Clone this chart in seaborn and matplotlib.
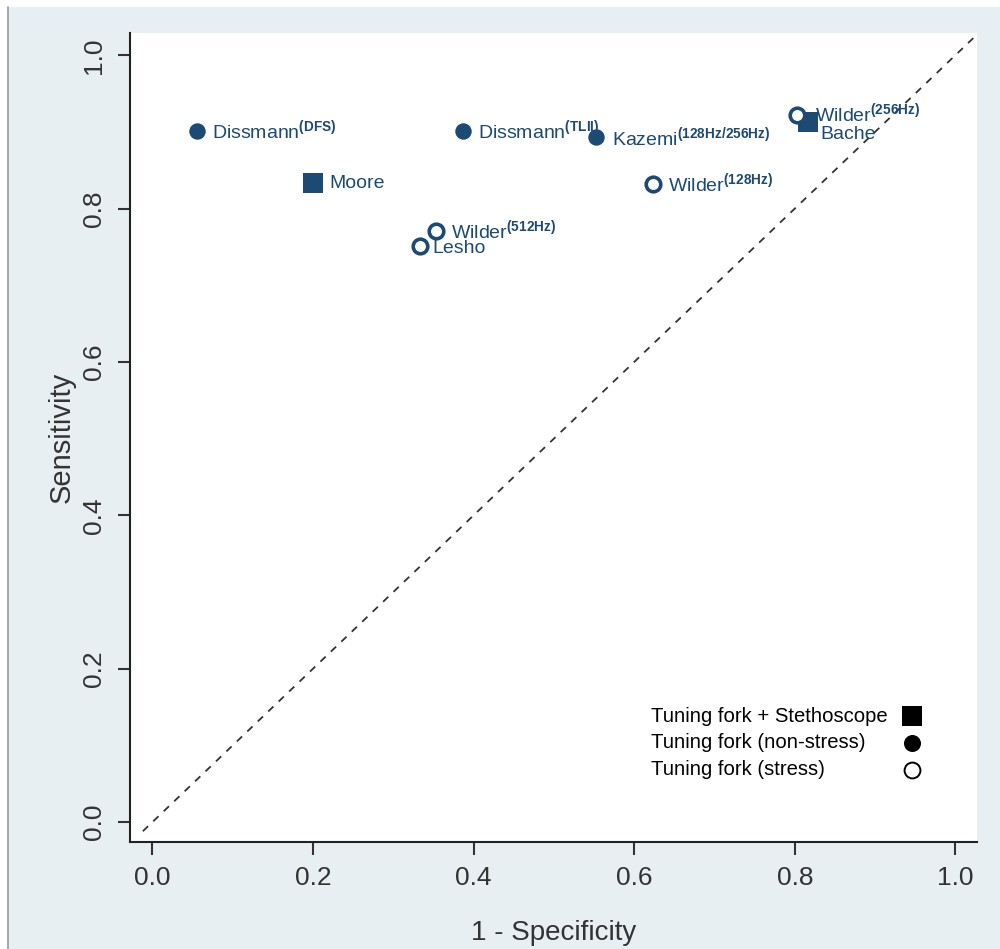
import numpy as np
import pandas as pd
import matplotlib
matplotlib.use("Agg")
import matplotlib.pyplot as plt
from matplotlib.lines import Line2D
from matplotlib.patches import Rectangle
import seaborn as sns

# study points
studies = ['Dissmann', 'Moore', 'Dissmann', 'Kazemi', 'Wilder', 'Wilder', 'Lesho', 'Wilder', 'Bache']
tags = ['(DFS)', '', '(TLII)', '(128Hz/256Hz)', '(128Hz)', '(512Hz)', '', '(256Hz)', '']
fpr = [0.055, 0.200, 0.387, 0.553, 0.623, 0.353, 0.333, 0.803, 0.816]
sens = [0.901, 0.833, 0.901, 0.893, 0.832, 0.771, 0.751, 0.922, 0.913]
group = ['nonstress', 'steth', 'nonstress', 'nonstress', 'stress', 'stress', 'stress', 'stress', 'steth']
# label offsets in points (dx, dy)
off_x = [11, 12, 11, 11, 11, 11, 9, 13, 9]
off_y = [0, 0, 0, 0, 0, 0, -2, 1, -9]

legend_groups = ['steth', 'nonstress', 'stress']
legend_labels = ['Tuning fork + Stethoscope', 'Tuning fork (non-stress)', 'Tuning fork (stress)']
diag = np.array([-0.012, 1.03])

navy = '#1c4a72'
bg = '#e8eff2'

df = pd.DataFrame({'fpr': fpr, 'sens': sens, 'group': group})

sns.set_style('ticks')
plt.rcParams['font.family'] = ['Liberation Sans', 'DejaVu Sans']
plt.rcParams['mathtext.fontset'] = 'custom'
plt.rcParams['mathtext.rm'] = 'Liberation Sans'
plt.rcParams['mathtext.bf'] = 'Liberation Sans:bold'

fig = plt.figure(figsize=(10, 9.49), dpi=100)
fig.patch.set_facecolor('white')
fig.patches.append(Rectangle((0.008, -0.1), 1.1, 1.1 - 0.0074, transform=fig.transFigure,
                             facecolor=bg, edgecolor='none', zorder=-10))
fig.lines.append(Line2D([0.008, 0.008], [0, 1 - 0.0074], transform=fig.transFigure,
                        color='#9a9a9a', lw=1.2))

ax = fig.add_axes([0.13, 0.1128, 0.847, 0.8524])
ax.set_facecolor('white')

ax.plot(diag, diag, ls=(0, (4, 4)), color='#333333', lw=1.3, zorder=1)

styles = {
    'steth': dict(marker='s', s=210, color=navy, edgecolor=navy, linewidth=0),
    'nonstress': dict(marker='o', s=140, color=navy, edgecolor=navy, linewidth=0),
    'stress': dict(marker='o', s=110, color='white', edgecolor=navy, linewidth=2.6),
}
for g, st in styles.items():
    sub = df[df['group'] == g]
    sns.scatterplot(data=sub, x='fpr', y='sens', ax=ax, legend=False, zorder=3, **st)

for i in range(len(studies)):
    if tags[i]:
        lab = r'$\mathrm{%s}^{\mathbf{%s}}$' % (studies[i], tags[i])
    else:
        lab = studies[i]
    ax.annotate(lab, (fpr[i], sens[i]), xytext=(off_x[i], off_y[i]), textcoords='offset points',
                ha='left', va='center', fontsize=14, color=navy, zorder=4)

# legend: text left-aligned, key to the right (drawn by hand)
leg_style = {
    'steth': dict(marker='s', s=190, color='black', edgecolor='black', linewidth=0),
    'nonstress': dict(marker='o', s=150, color='black', edgecolor='black', linewidth=0),
    'stress': dict(marker='o', s=130, color='white', edgecolor='black', linewidth=1.4),
}
for k, (g, lab) in enumerate(zip(legend_groups, legend_labels)):
    yk = 0.1557 - k * 0.0333
    ax.text(0.615, yk, lab, transform=ax.transAxes, ha='left', va='center',
            fontsize=14.6, color='black')
    ax.scatter([0.923], [yk], transform=ax.transAxes, zorder=5, **leg_style[g])

ax.set_xlim(-0.028, 1.027)
ax.set_ylim(-0.026, 1.029)
ticks = [0.0, 0.2, 0.4, 0.6, 0.8, 1.0]
ax.set_xticks(ticks)
ax.set_yticks(ticks)
ax.set_xticklabels(['%.1f' % t for t in ticks], fontsize=19, color='#333333')
ax.set_yticklabels(['%.1f' % t for t in ticks], fontsize=19, color='#333333',
                   rotation=90, va='center')
ax.tick_params(length=9, width=1.5, color='#333333', pad=8)
for side in ['top', 'right']:
    ax.spines[side].set_visible(False)
for side in ['left', 'bottom']:
    ax.spines[side].set_linewidth(1.5)
    ax.spines[side].set_color('#222222')

ax.set_xlabel('1 - Specificity', fontsize=20, color='#333333', labelpad=22)
ax.set_ylabel('Sensitivity', fontsize=21, color='#333333', labelpad=5)

fig.savefig('out.png', dpi=100, facecolor=fig.get_facecolor())
